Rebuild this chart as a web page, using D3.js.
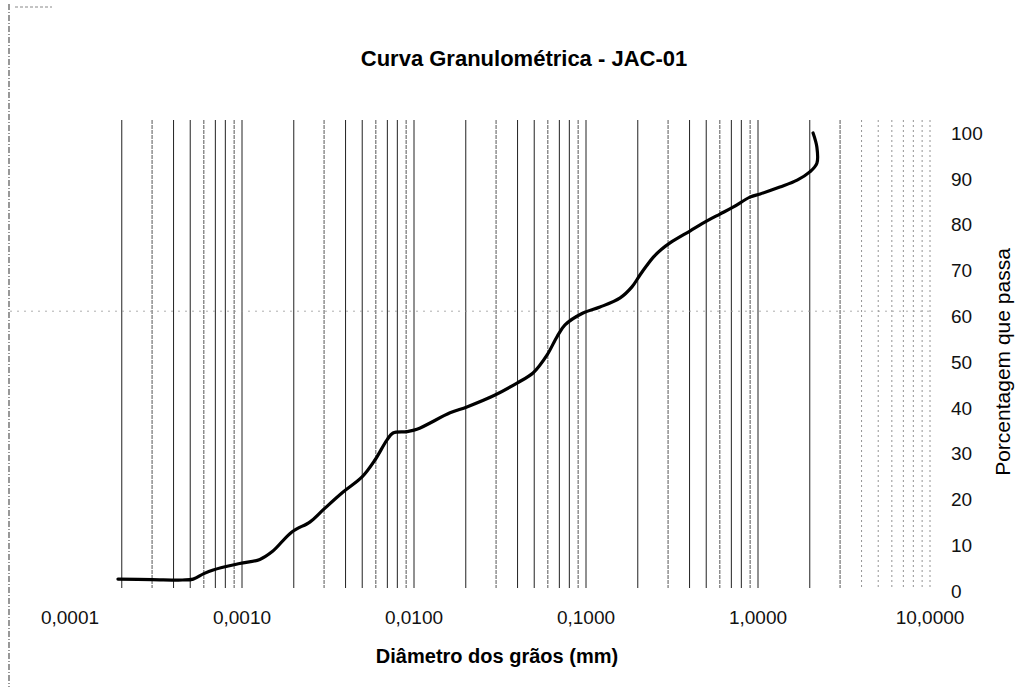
<!DOCTYPE html>
<html>
<head>
<meta charset="utf-8">
<script src="https://cdn.jsdelivr.net/npm/d3@7.8.5/dist/d3.min.js"></script>
<style>
  html, body { margin: 0; padding: 0; background: #fff; }
  svg { display: block; font-family: "Liberation Sans", Arial, sans-serif; }
</style>
</head>
<body>
<svg id="chart" width="1018" height="687"></svg>
<script>
// grain size (mm) and percent passing
const diameters = [
  0.00019, 0.00030, 0.00045, 0.00052, 0.00060, 0.00068, 0.00097, 0.00127,
  0.00150, 0.00195, 0.00249, 0.00296, 0.00387, 0.00499, 0.00593, 0.00697,
  0.00755, 0.0091, 0.0104, 0.0162, 0.0203, 0.0296, 0.0397, 0.0492,
  0.0593, 0.0678, 0.0755, 0.0961, 0.1206, 0.158, 0.185, 0.206,
  0.225, 0.245, 0.275, 0.308, 0.402, 0.505, 0.601, 0.716, 0.898, 1.03,
  1.34, 1.69, 2.00, 2.20, 2.20, 2.09
];
const passing = [
  2.6, 2.5, 2.4, 2.6, 3.8, 4.6, 6.0, 6.9,
  8.6, 12.9, 15.1, 17.7, 21.6, 24.9, 28.6, 33.0,
  34.5, 34.8, 35.3, 38.9, 40.2, 42.8, 45.4, 47.6,
  51.5, 55.5, 58.1, 60.7, 62.0, 64.0, 66.4, 69.0,
  71.0, 72.8, 74.6, 76.0, 78.6, 80.8, 82.3, 83.8, 86.0, 86.7,
  88.2, 89.7, 91.5, 93.4, 96.9, 100
];
const xTickValues = [0.0001, 0.001, 0.01, 0.1, 1, 10];
const yTickValues = [0, 10, 20, 30, 40, 50, 60, 70, 80, 90, 100];

const title = 'Curva Granulométrica - JAC-01';
const xTitle = 'Diâmetro dos grãos (mm)';
const yTitle = 'Porcentagem que passa';

const svg = d3.select('#chart');
const plotLeft = 70, plotRight = 930, plotTop = 120, plotBottom = 588;

const x = d3.scaleLog().domain([0.0001, 10]).range([plotLeft, plotRight]);
const y = d3.scaleLinear().domain([0, 100]).range([591, 133]);

// scan border remnant on the left
svg.append('line')
    .attr('x1', 9).attr('x2', 9).attr('y1', 4).attr('y2', 687)
    .attr('stroke', '#555').attr('stroke-width', 1.2)
    .attr('stroke-dasharray', '6,2,1,2');
svg.append('line')
    .attr('x1', 15).attr('x2', 52).attr('y1', 7).attr('y2', 7)
    .attr('stroke', '#888').attr('stroke-width', 1)
    .attr('stroke-dasharray', '3,2');

// vertical gridlines (1..9 per decade)
const gridVals = x.ticks().filter(v => v > 0.00011);
svg.append('g')
    .selectAll('line')
    .data(gridVals)
    .enter()
    .append('line')
    .attr('x1', d => x(d)).attr('x2', d => x(d))
    .attr('y1', plotTop).attr('y2', plotBottom)
    .attr('stroke', (d, i) => d > 3.5 ? '#888' : (i % 3 === 1 ? '#555' : '#222'))
    .attr('stroke-width', d => d > 3.5 ? 0.9 : 1)
    .attr('stroke-dasharray', (d, i) => d > 3.5 ? '2,3' : (i % 3 === 1 ? '4,1' : null));

// faint remnant of the 60 % gridline
svg.append('line')
    .attr('x1', plotLeft - 60).attr('x2', plotRight)
    .attr('y1', y(60) - 5).attr('y2', y(60) - 5)
    .attr('stroke', '#999').attr('stroke-width', 0.8)
    .attr('stroke-dasharray', '2,5');

// grain size curve
const pts = diameters.map((d, i) => [x(d), y(passing[i])]);
svg.append('path')
    .datum(pts)
    .attr('fill', 'none')
    .attr('stroke', '#000')
    .attr('stroke-width', 3.2)
    .attr('stroke-linejoin', 'round')
    .attr('stroke-linecap', 'round')
    .attr('d', d3.line().curve(d3.curveCatmullRom.alpha(0.5)));

// x tick labels
svg.append('g')
    .selectAll('text')
    .data(xTickValues)
    .enter()
    .append('text')
    .attr('x', d => x(d))
    .attr('y', 624)
    .attr('text-anchor', 'middle')
    .attr('font-size', 19)
    .attr('fill', '#111')
    .text(d => d3.format('.4f')(d).replace('.', ','));

// y tick labels, right side
svg.append('g')
    .selectAll('text')
    .data(yTickValues)
    .enter()
    .append('text')
    .attr('x', 951)
    .attr('y', d => y(d))
    .attr('dy', '0.36em')
    .attr('text-anchor', 'start')
    .attr('font-size', 19)
    .attr('fill', '#111')
    .text(d => d);

svg.append('text')
    .attr('x', 524).attr('y', 66)
    .attr('text-anchor', 'middle')
    .attr('font-size', 22).attr('font-weight', 'bold')
    .attr('fill', '#000')
    .text(title);

svg.append('text')
    .attr('x', 497).attr('y', 663)
    .attr('text-anchor', 'middle')
    .attr('font-size', 20).attr('font-weight', 'bold')
    .attr('fill', '#000')
    .text(xTitle);

svg.append('text')
    .attr('transform', 'translate(1010, 362) rotate(-90)')
    .attr('text-anchor', 'middle')
    .attr('font-size', 21)
    .attr('fill', '#000')
    .text(yTitle);
</script>
</body>
</html>
